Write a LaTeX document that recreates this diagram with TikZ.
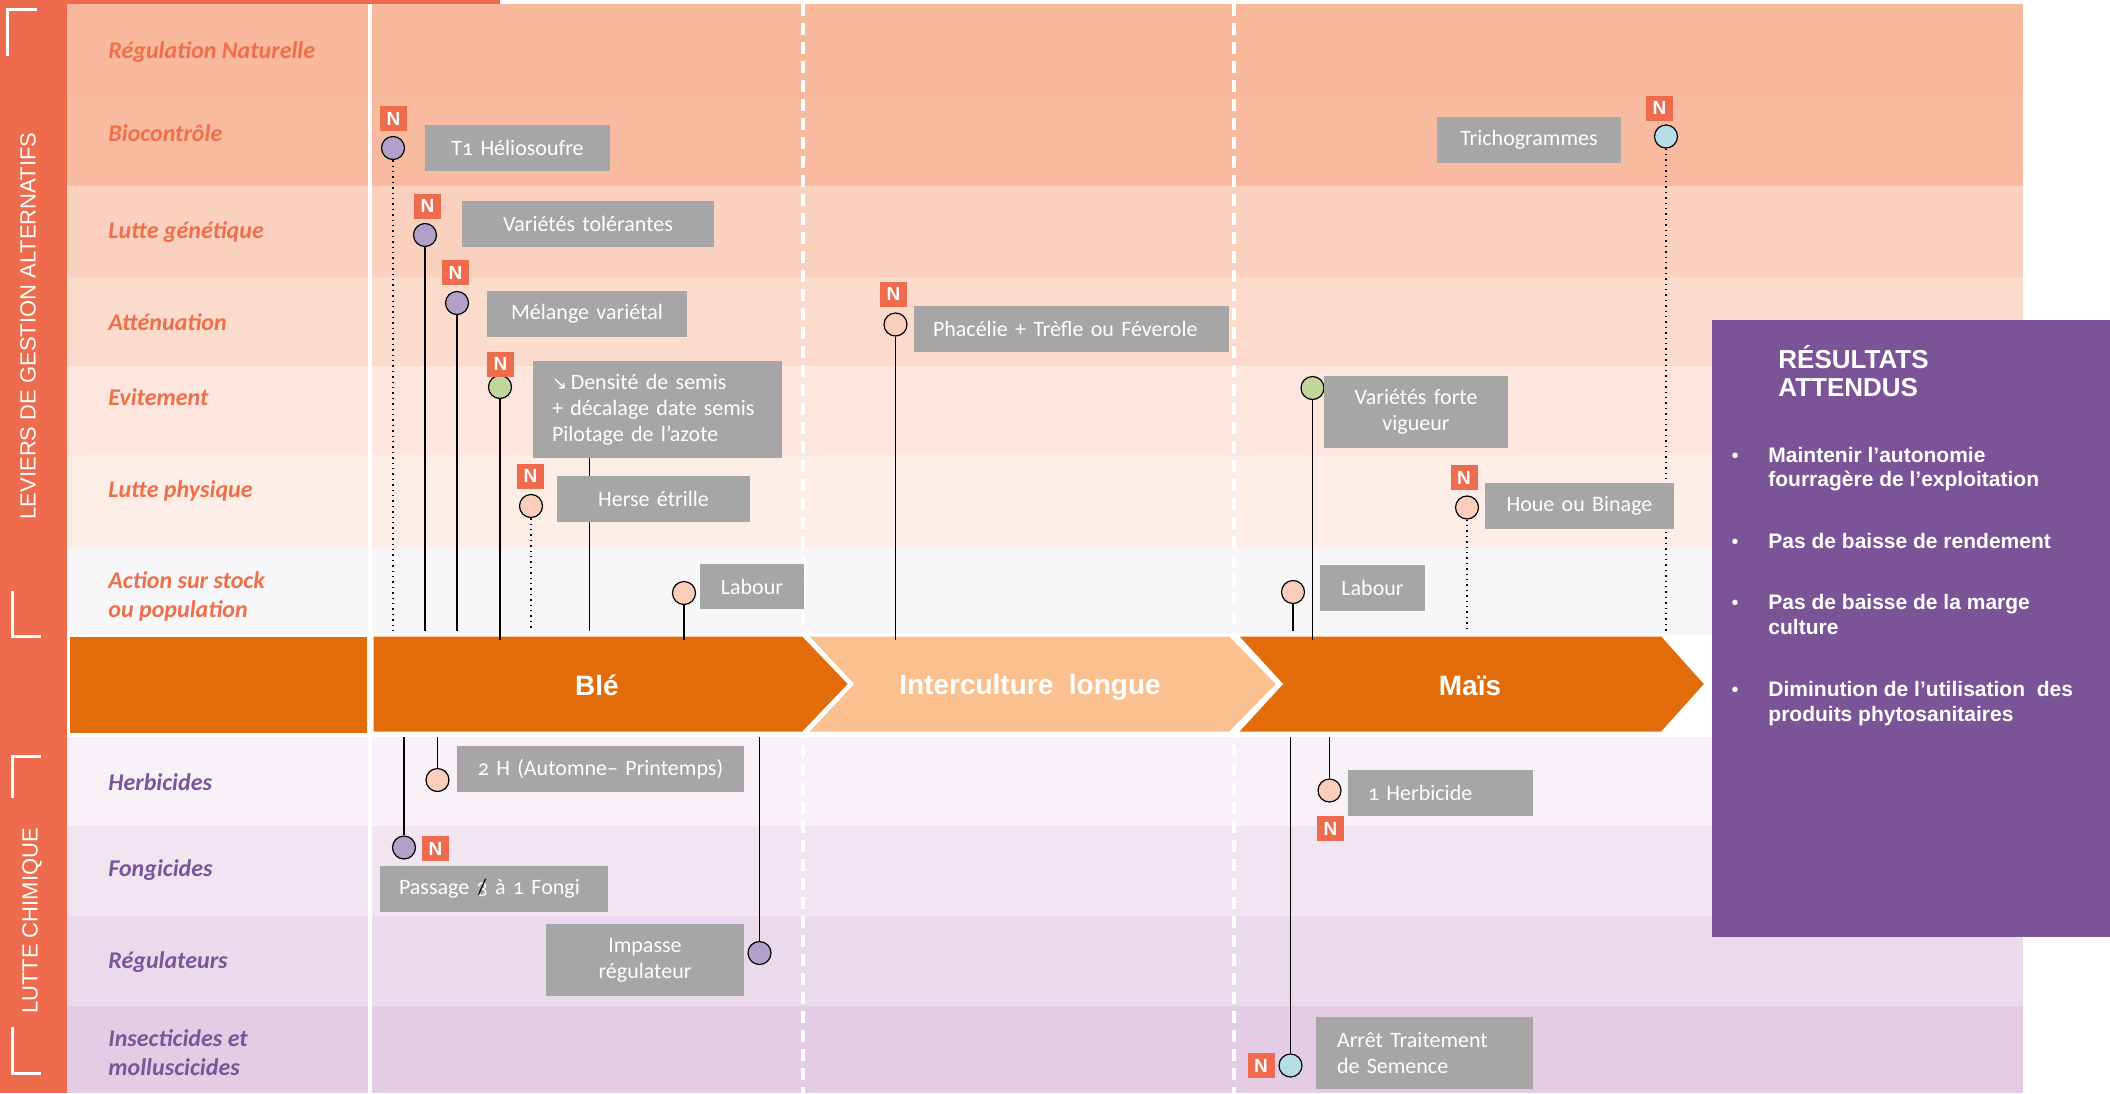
\documentclass[tikz,border=0pt]{standalone}
\usepackage{fontspec}
\setmainfont{Carlito}[Numbers=OldStyle]
\newfontfamily\arialf{Liberation Sans}
\newfontfamily\djv{DejaVu Sans}
\definecolor{strip}{HTML}{EE6C4D}
\definecolor{rA}{HTML}{F8B89C}
\definecolor{rB}{HTML}{F8BB9F}
\definecolor{rC}{HTML}{FAD0BF}
\definecolor{rD}{HTML}{FBDBCC}
\definecolor{rE}{HTML}{FDE6DD}
\definecolor{rF}{HTML}{FCEEE7}
\definecolor{rG}{HTML}{F7F7F9}
\definecolor{rH}{HTML}{F8F1F8}
\definecolor{rI}{HTML}{F1E5F2}
\definecolor{rJ}{HTML}{EBDAEC}
\definecolor{rK}{HTML}{E4CCE4}
\definecolor{cropdark}{HTML}{E36C0A}
\definecolor{croplight}{HTML}{FAC090}
\definecolor{boxgray}{HTML}{A6A6A6}
\definecolor{upcol}{HTML}{EF6F4A}
\definecolor{lowcol}{HTML}{7A559A}
\definecolor{respurple}{HTML}{7B5397}
\definecolor{mpurple}{HTML}{B1A0C7}
\definecolor{mgreen}{HTML}{C3D69B}
\definecolor{msalmon}{HTML}{FBCDBB}
\definecolor{mblue}{HTML}{B7DEE8}
\definecolor{ncol}{HTML}{EE6C4D}
\newcommand\crossthree{\ooalign{3\cr\hidewidth\textcolor{black}{/}\hidewidth\cr}}
\newcommand\twoline[3]{\vtop{\baselineskip=#1\relax\hbox{#2}\hbox{#3}}}
\pgfdeclarelayer{bglayer}
\pgfdeclarelayer{connlayer}
\pgfsetlayers{bglayer,connlayer,main}
\begin{document}
\begin{tikzpicture}[x=0.5pt,y=-0.5pt,
  gbox/.style={fill=boxgray, text=white, font=\fontsize{11}{13}\selectfont, inner xsep=0pt, inner ysep=0pt, minimum height=23pt, align=center},
  rowlab/.style={anchor=west, inner sep=0pt, align=left, font=\bfseries\itshape\fontsize{12}{14.5}\selectfont},
  mk/.style={circle, draw=black, line width=0.6pt, minimum size=11.5pt, inner sep=0pt},
  nb/.style={fill=ncol, text=white, font=\arialf\bfseries\fontsize{9.5}{10}\selectfont, minimum width=13.5pt, minimum height=12.5pt, inner sep=0pt},
  conn/.style={line width=0.75pt, black},
  dconn/.style={line width=0.7pt, black, dotted},
  bandtxt/.style={text=white, font=\arialf\bfseries\fontsize{14}{16}\selectfont},
  striptxt/.style={rotate=90, text=white, font=\arialf\fontsize{11}{12}\selectfont},
  bracket/.style={white, line width=1.5pt},
  restxt/.style={text=white, anchor=base west, inner sep=0pt, font=\arialf\bfseries\fontsize{10.5}{12.5}\selectfont},
  bul/.style={text=white, anchor=base, inner sep=0pt, font=\arialf\fontsize{10}{10}\selectfont},
  wdash/.style={white, line width=2pt, dash pattern=on 6pt off 3.5pt}
]
\useasboundingbox (0,0) rectangle (2110,1093);
\begin{pgfonlayer}{bglayer}
% rows
\fill[rA] (67,4) rectangle (2023,95);
\fill[rB] (67,95) rectangle (2023,186);
\fill[rC] (67,186) rectangle (2023,277);
\fill[rD] (67,277) rectangle (2023,366);
\fill[rE] (67,366) rectangle (2023,456);
\fill[rF] (67,456) rectangle (2023,547);
\fill[rG] (67,547) rectangle (2023,635);
\fill[white] (67,635) rectangle (2023,737);
\fill[rH] (67,737) rectangle (2023,826);
\fill[rI] (67,826) rectangle (2023,916);
\fill[rJ] (67,916) rectangle (2023,1006);
\fill[rK] (67,1006) rectangle (2023,1093);
% left strip
\fill[strip] (0,0) rectangle (67,1093);
\fill[strip] (0,0) rectangle (500,4);
\draw[bracket] (7,56) -- (7,9.5) -- (37,9.5);
\draw[bracket] (12,591) -- (12,636) -- (41,636);
\draw[bracket] (12,798) -- (12,756) -- (41,756);
\draw[bracket] (12,1027) -- (12,1073) -- (41,1073);
% vertical separators
\draw[white, line width=2pt] (370,4) -- (370,1093);
\draw[wdash] (803,4) -- (803,1093);
\draw[wdash] (1234,4) -- (1234,1093);
% crop band
\fill[cropdark] (70,637) rectangle (367,733);
\draw[white, line width=1.5pt, fill=cropdark] (372,635) -- (803,635) -- (850,684) -- (803,733) -- (372,733) -- cycle;
\draw[white, line width=1.5pt, fill=croplight] (806,635) -- (1230,635) -- (1278,684) -- (1230,733) -- (806,733) -- (852,684) -- cycle;
\draw[white, line width=1.5pt, fill=cropdark] (1236,635) -- (1662,635) -- (1706,684) -- (1662,733) -- (1236,733) -- (1281,684) -- cycle;
\end{pgfonlayer}
\node[striptxt] (lev) at (28,326) {LEVIERS DE GESTION ALTERNATIFS};
\node[striptxt] (lch) at (32,921) {LUTTE CHIMIQUE};
\node[bandtxt] (tB) at (597,685) {Blé};
\node[bandtxt] (tI) at (1030,687) {Interculture\ \ longue};
\node[bandtxt] (tM) at (1470,686) {Maïs};
\coordinate (btop) at (0,631);
\coordinate (bin) at (0,640);
\coordinate (bbot) at (0,737);
% row labels
\node[rowlab, text=upcol] (l1) at (108,52) {Régulation Naturelle};
\node[rowlab, text=upcol] (l2) at (108,133) {Biocontrôle};
\node[rowlab, text=upcol] (l3) at (108,232) {Lutte génétique};
\node[rowlab, text=upcol] (l4) at (108,322) {Atténuation};
\node[rowlab, text=upcol] (l5) at (108,397) {Evitement};
\node[rowlab, text=upcol] (l6) at (108,491) {Lutte physique};
\node[rowlab, text=upcol] (l7) at (108,596) {Action sur stock\\ou population};
\node[rowlab, text=lowcol] (l8) at (108,782) {Herbicides};
\node[rowlab, text=lowcol] (l9) at (108,870) {Fongicides};
\node[rowlab, text=lowcol] (l10) at (108,962) {Régulateurs};
\node[rowlab, text=lowcol] (l11) at (108,1053) {Insecticides et\\molluscicides};
% markers
\node[mk, fill=mpurple] (mA) at (393,148) {};
\node[mk, fill=mpurple] (mB) at (425,235) {};
\node[mk, fill=mpurple] (mC) at (457,303) {};
\node[mk, fill=mgreen] (mD) at (500,387) {};
\node[mk, fill=msalmon] (mE) at (531,506) {};
\node[mk, fill=msalmon] (mG) at (684,593) {};
\node[mk, fill=msalmon] (mH) at (437.5,780) {};
\node[mk, fill=mpurple] (mI) at (404,847.5) {};
\node[mk, fill=mpurple] (mJ) at (759.5,953) {};
\node[mk, fill=msalmon] (mK) at (895.5,324.5) {};
\node[mk, fill=mgreen] (mL) at (1312.5,388) {};
\node[mk, fill=msalmon] (mM) at (1293,592) {};
\node[mk, fill=msalmon] (mN) at (1467,507.5) {};
\node[mk, fill=mblue] (mO) at (1666,136.5) {};
\node[mk, fill=msalmon] (mP) at (1329.5,790.5) {};
\node[mk, fill=mblue] (mQ) at (1290.5,1065.5) {};
% N badges
\node[nb] (nA) at (393.5,118.5) {N};
\node[nb] (nB) at (427.5,206) {N};
\node[nb] (nC) at (455.5,272.5) {N};
\node[nb] (nD) at (500.5,364) {N};
\node[nb] (nE) at (530.5,476) {N};
\node[nb] (nI) at (435.5,848.5) {N};
\node[nb] (nK) at (893.5,294) {N};
\node[nb] (nN) at (1464,477.5) {N};
\node[nb] (nO) at (1659.5,108) {N};
\node[nb] (nP) at (1330.5,828.5) {N};
\node[nb] (nQ) at (1261,1065.5) {N};
% grey boxes
\node[gbox, text width=92.5pt] (bT1) at (517.5,148) {T1 Héliosoufre};
\node[gbox, text width=126pt] (bVT) at (588,224) {Variétés tolérantes};
\node[gbox, text width=100pt] (bML) at (587,314) {Mélange variétal};
\node[gbox, text width=105.5pt, inner xsep=9.5pt, align=left, minimum height=48.5pt] (bDS) at (657.5,409.5) {{\djv\fontsize{9}{13}\selectfont ↘}\,Densité de semis\\+ décalage date semis\\Pilotage de l’azote};
\node[gbox, text width=96.5pt] (bHE) at (653.5,499) {Herse étrille};
\node[gbox, text width=52pt, minimum height=22.5pt] (bLB1) at (752,586.5) {Labour};
\node[gbox, text width=143.5pt] (bH2) at (600.5,769) {2 H (Automne– Printemps)};
\node[gbox, text width=95pt, inner xsep=9.5pt, align=left] (bPF) at (494,889) {Passage \crossthree{} à 1 Fongi};
\node[gbox, text width=99pt, minimum height=36pt] (bIR) at (645,960) {Impasse\\régulateur};
\node[gbox, text width=138.5pt, inner xsep=9.5pt, align=left] (bPH) at (1071.5,329) {Phacélie + Trèfle ou Féverole};
\node[gbox, text width=92pt, minimum height=36pt] (bVF) at (1416,412) {Variétés forte\\vigueur};
\node[gbox, text width=94.5pt] (bHB) at (1579.5,506) {Houe ou Binage};
\node[gbox, text width=52.5pt] (bLB2) at (1372.5,588) {Labour};
\node[gbox, text width=72.5pt, inner xsep=10pt, align=left] (bH1) at (1440.5,793) {1 Herbicide};
\node[gbox, text width=87.5pt, inner xsep=10.5pt, align=left, minimum height=36pt] (bAT) at (1424.5,1053) {Arrêt Traitement\\de Semence};
\node[gbox, text width=92pt] (bTR) at (1529,140) {Trichogrammes};
% connectors (behind markers and boxes)
\begin{pgfonlayer}{connlayer}
\draw[dconn] (mA) -- (mA |- btop);
\draw[conn] (mB) -- (mB |- btop);
\draw[conn] (mC) -- (mC |- btop);
\draw[conn] (mD) -- (mD |- bin);
\draw[dconn] (mE) -- (mE |- btop);
\draw[conn] ([xshift=28.5pt]bDS.south west) coordinate (fA) -- (fA |- btop);
\draw[conn] (mG) -- (mG |- bin);
\draw[conn] (mH |- bbot) -- (mH);
\draw[conn] (mI |- bbot) -- (mI);
\draw[conn] (mJ |- bbot) -- (mJ);
\draw[conn] (mK) -- (mK |- bin);
\draw[conn] (mL) -- (mL |- bin);
\draw[conn] (mM) -- (mM |- btop);
\draw[dconn] (mN) -- (mN |- btop);
\draw[dconn] (mO) -- (mO |- btop);
\draw[conn] (mP |- bbot) -- (mP);
\draw[conn] (mQ |- bbot) -- (mQ);
\end{pgfonlayer}
% results box
\node[fill=respurple, minimum width=199pt, minimum height=308.5pt, anchor=north west, inner sep=0pt] (res) at (1712,320) {};
\node[text=white, anchor=base west, inner sep=0pt, font=\arialf\bfseries\fontsize{13}{14}\selectfont] (rt) at (1778,368) {\twoline{14pt}{RÉSULTATS}{ATTENDUS}};
\node[bul] (u1) at (1735,462) {•};
\node[restxt] (t1) at (1768,462) {\twoline{12pt}{Maintenir l’autonomie}{fourragère de l’exploitation}};
\node[bul] (u2) at (1735,548) {•};
\node[restxt] (t2) at (1768,548) {Pas de baisse de rendement};
\node[bul] (u3) at (1735,609) {•};
\node[restxt] (t3) at (1768,609) {\twoline{12.5pt}{Pas de baisse de la marge}{culture}};
\node[bul] (u4) at (1735,696) {•};
\node[restxt] (t4) at (1768,696) {\twoline{12.5pt}{Diminution de l’utilisation\ \ des}{produits phytosanitaires}};
\end{tikzpicture}
\end{document}
